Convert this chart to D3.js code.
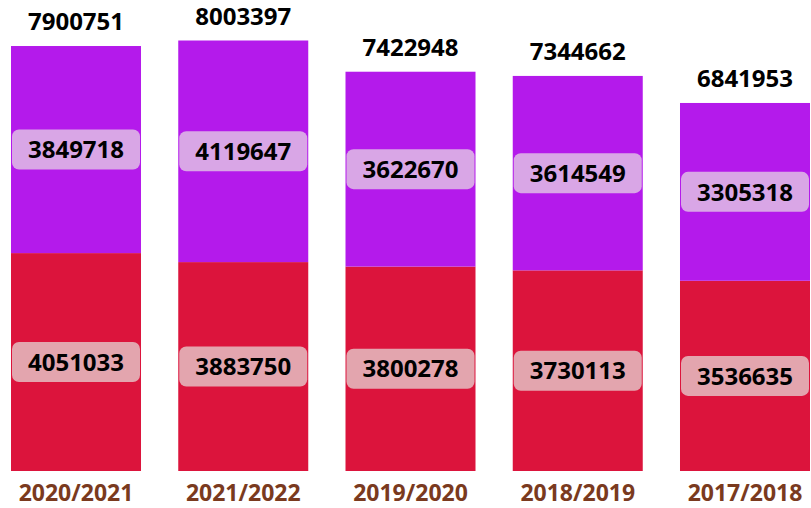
<!DOCTYPE html>
<html>
<head>
<meta charset="utf-8">
<script src="https://cdn.jsdelivr.net/npm/d3@7"></script>
<style>
  body { margin: 0; background: #fff; }
  text { font-family: "Open Sans", sans-serif; font-weight: bold; }
</style>
</head>
<body>
<svg id="canvas" width="811" height="508"></svg>
<script>
// chart data
let years = ['2020/2021', '2021/2022', '2019/2020', '2018/2019', '2017/2018']
let lowerVals = [4051033, 3883750, 3800278, 3730113, 3536635]
let upperVals = [3849718, 4119647, 3622670, 3614549, 3305318]
let totals = [7900751, 8003397, 7422948, 7344662, 6841953]

let canvas = d3.select('#canvas')

let x = d3.scaleBand()
    .domain(years)
    .range([11, 810])
    .paddingInner(0.2227)
    .paddingOuter(0)

let y = d3.scaleLinear()
    .domain([0, d3.max(totals)])
    .range([471, 40.5])

let rows = years.map(function (yr, i) {
    return {year: yr, lower: lowerVals[i], upper: upperVals[i], total: totals[i]}
})

let stack = d3.stack().keys(['lower', 'upper'])
let layers = stack(rows)
let colors = {lower: '#dc143c', upper: '#b41aeb'}
let boxColors = {lower: '#e3a5ae', upper: '#d9a6e6'}

let groups = canvas.selectAll('g.layer')
    .data(layers)
    .enter()
    .append('g')
    .attr('class', 'layer')

groups.selectAll('rect')
    .data(function (d) { return d.map(function (p) { p.key = d.key; return p }) })
    .enter()
    .append('rect')
    .attr('x', function (d) { return x(d.data.year) })
    .attr('y', function (d) { return y(d[1]) })
    .attr('width', x.bandwidth())
    .attr('height', function (d) { return y(d[0]) - y(d[1]) })
    .attr('fill', function (d) { return colors[d.key] })

// value boxes in the middle of each segment
layers.forEach(function (layer) {
    let lab = canvas.selectAll('g.lab-' + layer.key)
        .data(layer)
        .enter()
        .append('g')
        .attr('class', 'lab-' + layer.key)
        .attr('transform', function (d) {
            return 'translate(' + (x(d.data.year) + x.bandwidth() / 2) + ',' + ((y(d[0]) + y(d[1])) / 2) + ')'
        })

    lab.append('rect')
        .attr('x', -x.bandwidth() / 2 + 1)
        .attr('y', -20)
        .attr('width', x.bandwidth() - 2)
        .attr('height', 40)
        .attr('rx', 7)
        .attr('fill', boxColors[layer.key])

    lab.append('text')
        .attr('text-anchor', 'middle')
        .attr('dy', '0.36em')
        .attr('font-size', 24)
        .attr('fill', '#000')
        .text(function (d) { return d.data[layer.key] })
})

// totals on top
canvas.selectAll('text.total')
    .data(rows)
    .enter()
    .append('text')
    .attr('class', 'total')
    .attr('x', function (d) { return x(d.year) + x.bandwidth() / 2 })
    .attr('y', function (d) { return y(d.total) - 16 })
    .attr('text-anchor', 'middle')
    .attr('font-size', 24)
    .attr('fill', '#000')
    .text(function (d) { return d.total })

// category labels
canvas.selectAll('text.cat')
    .data(years)
    .enter()
    .append('text')
    .attr('class', 'cat')
    .attr('x', function (d) { return x(d) + x.bandwidth() / 2 })
    .attr('y', 501)
    .attr('text-anchor', 'middle')
    .attr('font-size', 23)
    .attr('fill', '#7a3a1e')
    .text(function (d) { return d })
</script>
</body>
</html>
